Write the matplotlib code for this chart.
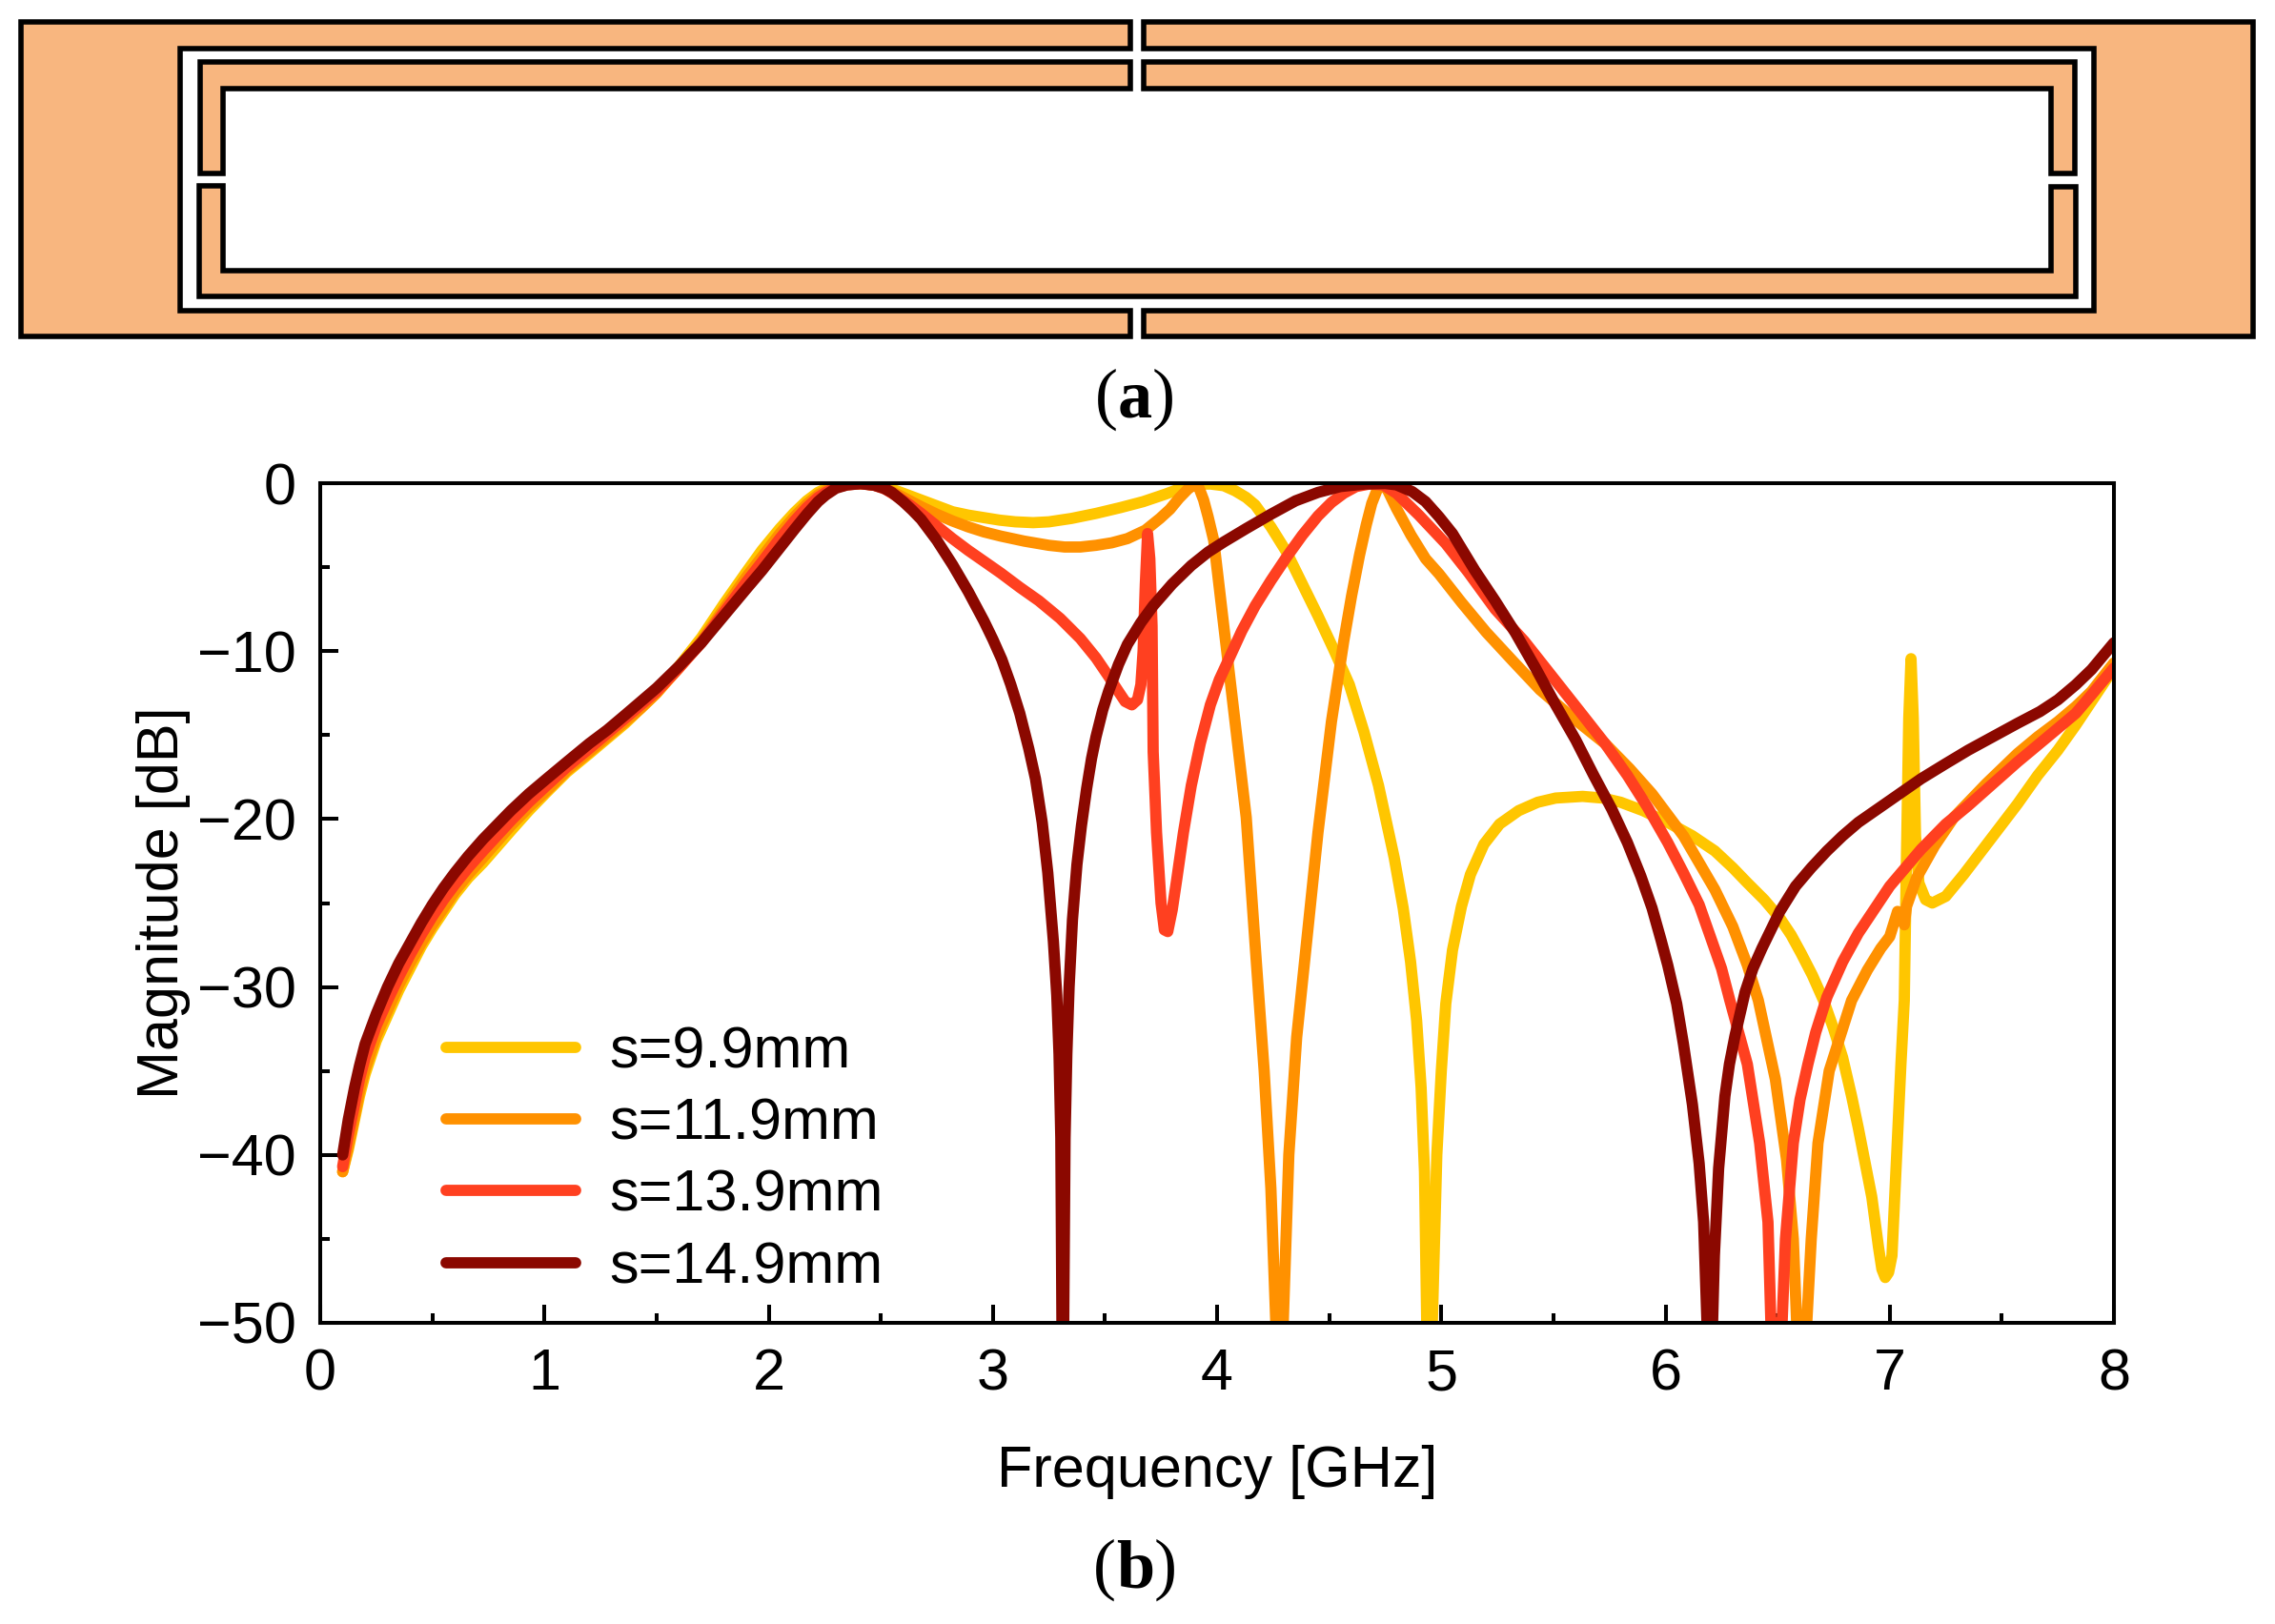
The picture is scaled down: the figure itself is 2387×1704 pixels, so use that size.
import matplotlib
matplotlib.use('Agg')
from matplotlib import pyplot as plt
from matplotlib.patches import Polygon

plt.rcParams['font.family'] = ['Liberation Sans', 'DejaVu Sans']

# s=9.9mm
f_99 = [0.1, 0.125, 0.153, 0.175, 0.2, 0.25, 0.3, 0.35, 0.4, 0.45, 0.5, 0.55, 0.6, 0.66, 0.726, 0.85, 0.93, 1.01, 1.1, 1.2,
        1.28, 1.36, 1.43, 1.5, 1.6, 1.7, 1.8, 1.9, 1.97, 2.05, 2.115, 2.17, 2.22, 2.26, 2.3, 2.35, 2.41, 2.5, 2.58, 2.63,
        2.68, 2.75, 2.82, 2.89, 2.96, 3.03, 3.1, 3.18, 3.25, 3.35, 3.46, 3.57, 3.67, 3.77, 3.87, 3.92, 3.97, 4.03, 4.08,
        4.13, 4.17, 4.24, 4.31, 4.38, 4.45, 4.52, 4.59, 4.655, 4.72, 4.79, 4.83, 4.863, 4.89, 4.91, 4.925, 4.935, 4.96, 4.98,
        5.0, 5.02, 5.05, 5.09, 5.13, 5.19, 5.26, 5.345, 5.43, 5.51, 5.63, 5.72, 5.8, 5.9, 6.01, 6.12, 6.22, 6.3, 6.365, 6.44,
        6.51, 6.56, 6.605, 6.655, 6.705, 6.75, 6.79, 6.83, 6.86, 6.92, 6.95, 6.965, 6.98, 6.995, 7.01, 7.03, 7.05, 7.065,
        7.075, 7.085, 7.095, 7.105, 7.115, 7.13, 7.16, 7.19, 7.25, 7.33, 7.45, 7.57, 7.66, 7.75, 7.83, 7.91, 8.0]
db_99 = [-41, -39.7, -37.9, -36.5, -35.2, -33.2, -31.7, -30.2, -28.9, -27.6, -26.5, -25.5, -24.5, -23.5, -22.6, -20.7, -19.5, -18.4, -17.2, -16.1,
         -15.2, -14.3, -13.4, -12.5, -10.9, -9.2, -7.2, -5.3, -4, -2.7, -1.75, -1.05, -0.55, -0.3, -0.12, -0.05, -0.02, -0.15, -0.5, -0.75,
         -1, -1.35, -1.7, -1.9, -2.05, -2.2, -2.3, -2.35, -2.3, -2.1, -1.8, -1.45, -1.1, -0.65, -0.15, -0.06, -0.05, -0.15, -0.45,
         -0.85, -1.3, -2.6, -4.1, -6, -7.9, -9.9, -12, -14.8, -18, -22.3, -25.3, -28.5, -32, -36, -41, -50, -50, -40,
         -35, -31, -27.8, -25.2, -23.3, -21.5, -20.3, -19.5, -19, -18.75, -18.65, -18.75, -19, -19.5, -20.2, -21, -21.9, -22.9, -23.8, -24.8,
         -25.9, -26.9, -28, -29.3, -30.8, -32.5, -34.2, -36.5, -38.4, -42.5, -45.5, -46.8, -47.3, -47, -46, -40.3, -34.6, -30.8,
         -22, -14, -10.45, -14, -21, -23.8, -24.8, -25, -24.6, -23.3, -21.2, -19.1, -17.4, -15.9, -14.4, -12.8, -11]

# s=11.9mm
f_119 = [0.1, 0.125, 0.153, 0.175, 0.2, 0.25, 0.3, 0.35, 0.4, 0.45, 0.5, 0.55, 0.6, 0.66, 0.726, 0.85, 0.93, 1.01, 1.1, 1.2,
         1.28, 1.36, 1.43, 1.5, 1.6, 1.7, 1.8, 1.9, 1.97, 2.05, 2.115, 2.17, 2.22, 2.26, 2.3, 2.35, 2.41, 2.47, 2.52, 2.58,
         2.63, 2.68, 2.75, 2.82, 2.89, 2.96, 3.035, 3.14, 3.25, 3.32, 3.39, 3.46, 3.53, 3.6, 3.68, 3.745, 3.79, 3.83, 3.87, 3.9,
         3.92, 3.94, 3.96, 3.985, 4.03, 4.08, 4.13, 4.175, 4.21, 4.24, 4.262, 4.295, 4.32, 4.355, 4.39, 4.45, 4.51, 4.565, 4.6, 4.635,
         4.665, 4.69, 4.715, 4.735, 4.76, 4.8, 4.865, 4.93, 4.99, 5.09, 5.2, 5.32, 5.44, 5.58, 5.73, 5.84, 5.94, 6.08, 6.22, 6.3, 6.365,
         6.414, 6.49, 6.54, 6.57, 6.585, 6.63, 6.65, 6.68, 6.73, 6.78, 6.83, 6.9, 6.96, 7.0, 7.035, 7.05, 7.065, 7.075, 7.12, 7.2, 7.286,
         7.43, 7.57, 7.66, 7.75, 7.83, 7.9, 8.0]
db_119 = [-41, -39.5, -37.7, -36.2, -34.9, -32.9, -31.4, -29.9, -28.6, -27.4, -26.3, -25.3, -24.3, -23.3, -22.3, -20.4, -19.3, -18.3, -17.1, -16,
          -15.1, -14.2, -13.4, -12.5, -11, -9.4, -7.5, -5.6, -4.4, -3, -2, -1.25, -0.7, -0.4, -0.2, -0.08, -0.03, -0.1, -0.3, -0.7,
          -1.05, -1.4, -1.85, -2.25, -2.6, -2.9, -3.15, -3.45, -3.7, -3.8, -3.8, -3.7, -3.55, -3.3, -2.8, -2.1, -1.55, -0.9, -0.35, -0.05,
          -0.3, -1, -2, -3.4, -8.5, -14.2, -19.9, -28.5, -35, -42, -50, -50, -40, -33, -28.5, -20.8, -14.2, -9.4, -6.7, -4.3,
          -2.5, -1.2, -0.35, -0.1, -0.4, -1.5, -3.1, -4.5, -5.4, -7.1, -8.87, -10.6, -12.3, -13.9, -15.5, -17, -18.5, -21, -24.2, -26.4, -28.7,
          -30.8, -35.5, -40.3, -45, -50, -50, -45, -39.3, -35, -32.9, -30.8, -29, -27.7, -27, -25.5, -25.6, -26.3, -25.2, -23.5, -21.6, -19.9,
          -17.9, -16.1, -15.1, -14.2, -13.3, -12.4, -10.7]

# s=13.9mm
f_139 = [0.1, 0.125, 0.153, 0.175, 0.2, 0.25, 0.3, 0.35, 0.4, 0.45, 0.5, 0.55, 0.6, 0.66, 0.726, 0.85, 0.93, 1.01, 1.1, 1.2,
         1.28, 1.36, 1.43, 1.5, 1.6, 1.7, 1.8, 1.9, 1.97, 2.05, 2.115, 2.17, 2.22, 2.255, 2.3, 2.35, 2.41, 2.47, 2.52, 2.58,
         2.63, 2.68, 2.75, 2.82, 2.89, 2.96, 3.035, 3.12, 3.205, 3.3, 3.39, 3.46, 3.516, 3.56, 3.59, 3.62, 3.645, 3.66, 3.67, 3.68,
         3.69, 3.7, 3.71, 3.715, 3.73, 3.75, 3.765, 3.78, 3.8, 3.82, 3.85, 3.885, 3.925, 3.97, 4.01, 4.055, 4.11, 4.17, 4.24, 4.31,
         4.38, 4.45, 4.51, 4.565, 4.62, 4.68, 4.74, 4.8, 4.9, 5.02, 5.12, 5.24, 5.37, 5.5, 5.63, 5.73, 5.83, 5.92, 6.01, 6.08, 6.15,
         6.25, 6.287, 6.365, 6.42, 6.457, 6.47, 6.52, 6.535, 6.57, 6.6, 6.635, 6.67, 6.72, 6.79, 6.86, 7.0, 7.14, 7.25, 7.35, 7.46, 7.57,
         7.66, 7.75, 7.83, 7.9, 8.0]
db_139 = [-40.7, -38.8, -37, -35.5, -34.2, -32.3, -30.8, -29.4, -28.1, -26.9, -25.8, -24.8, -23.9, -22.9, -21.9, -20.1, -19, -18, -16.9, -15.8,
          -14.9, -14, -13.2, -12.4, -11, -9.5, -7.7, -5.9, -4.7, -3.3, -2.25, -1.45, -0.85, -0.55, -0.25, -0.1, -0.03, -0.12, -0.35, -0.85,
          -1.3, -1.8, -2.55, -3.3, -4, -4.65, -5.35, -6.2, -7, -8.05, -9.25, -10.4, -11.5, -12.4, -13, -13.2, -12.9, -12, -10, -6,
          -3, -4.5, -8.5, -16, -20.8, -25, -26.6, -26.7, -25.4, -23.6, -20.8, -18, -15.5, -13.2, -11.7, -10.4, -8.8, -7.3, -5.8, -4.4,
          -3.1, -1.95, -1.15, -0.6, -0.2, -0.05, -0.1, -0.6, -1.9, -3.6, -5.3, -7.5, -9.4, -11.6, -13.8, -15.5, -17.4, -19.3, -21.4, -23.2, -25.1,
          -28.9, -30.8, -34.6, -39.3, -44, -50, -50, -45, -39.3, -36.7, -34.6, -32.7, -30.6, -28.5, -26.8, -24, -21.8, -20.3, -19.2, -17.9, -16.6,
          -15.6, -14.6, -13.7, -12.6, -11]

# s=14.9mm
f_149 = [0.1, 0.125, 0.153, 0.175, 0.2, 0.25, 0.3, 0.35, 0.4, 0.45, 0.5, 0.55, 0.6, 0.66, 0.726, 0.85, 0.93, 1.01, 1.1, 1.2,
         1.28, 1.36, 1.43, 1.5, 1.6, 1.7, 1.8, 1.9, 1.97, 2.05, 2.115, 2.17, 2.22, 2.255, 2.3, 2.35, 2.41, 2.47, 2.51, 2.55,
         2.6, 2.64, 2.68, 2.75, 2.82, 2.89, 2.96, 3.0, 3.04, 3.08, 3.12, 3.16, 3.19, 3.22, 3.245, 3.27, 3.285, 3.295, 3.303, 3.308,
         3.316, 3.322, 3.33, 3.34, 3.355, 3.375, 3.395, 3.418, 3.44, 3.46, 3.49, 3.516, 3.56, 3.6, 3.66, 3.715, 3.8, 3.885, 3.96, 4.03,
         4.13, 4.24, 4.35, 4.45, 4.55, 4.66, 4.75, 4.8, 4.87, 4.93, 4.99, 5.05, 5.15, 5.24, 5.33, 5.42, 5.51, 5.6, 5.68, 5.76, 5.83, 5.89, 5.94,
         5.98, 6.01, 6.05, 6.08, 6.12, 6.15, 6.17, 6.185, 6.21, 6.218, 6.237, 6.265, 6.285, 6.31, 6.355, 6.39, 6.43, 6.51, 6.58, 6.65, 6.72, 6.79,
         6.86, 7.0, 7.14, 7.25, 7.35, 7.46, 7.57, 7.67, 7.75, 7.83, 7.9, 8.0]
db_149 = [-40, -37.9, -36, -34.7, -33.4, -31.6, -30, -28.6, -27.4, -26.2, -25.1, -24.1, -23.2, -22.2, -21.2, -19.5, -18.5, -17.6, -16.6, -15.5,
          -14.7, -13.8, -13, -12.2, -10.9, -9.5, -7.9, -6.3, -5.2, -3.85, -2.75, -1.85, -1.1, -0.7, -0.3, -0.1, -0.03, -0.12, -0.28, -0.55,
          -1.1, -1.6, -2.15, -3.4, -4.85, -6.45, -8.2, -9.3, -10.5, -12, -13.7, -15.8, -17.6, -20.2, -23.2, -27.3, -30.5, -34, -39, -50,
          -50, -39, -34, -30, -26, -22.7, -20.4, -18.2, -16.4, -15.1, -13.5, -12.4, -10.8, -9.6, -8.3, -7.3, -6, -4.9, -4.1, -3.5,
          -2.7, -1.85, -1.05, -0.55, -0.2, -0.05, -0.02, -0.1, -0.5, -1.1, -2, -3, -5.2, -7, -8.9, -11, -13.2, -15.3, -17.4, -19.4, -21.4, -23.4, -25.3,
          -27.2, -28.7, -31, -33.4, -37, -40.5, -44, -50, -50, -46, -40.8, -36.5, -34.6, -32.9, -30.3, -28.9, -27.7, -25.5, -24, -22.9, -21.9, -21,
          -20.2, -18.9, -17.6, -16.7, -15.9, -15.1, -14.3, -13.6, -12.9, -12, -11.1, -9.5]

labels = ['s=9.9mm', 's=11.9mm', 's=13.9mm', 's=14.9mm']
colors = ['#FFC600', '#FF9100', '#FF4020', '#8B0800']

x_ticks = [0, 1, 2, 3, 4, 5, 6, 7, 8]
x_minor = [0.5, 1.5, 2.5, 3.5, 4.5, 5.5, 6.5, 7.5]
y_ticks = [0, -10, -20, -30, -40, -50]
y_tick_labels = ['0', '\u221210', '\u221220', '\u221230', '\u221240', '\u221250']
y_minor = [-5, -15, -25, -35, -45]

# Panel (a) outlines, in picture pixels
copper_left = [(1186, 22.7), (22, 22.7), (22, 353), (1186, 353), (1186, 325.5), (189, 325.5), (189, 51), (1186, 51)]
copper_right = [(1199.5, 22.7), (2364, 22.7), (2364, 353), (1199.5, 353), (1199.5, 325.5), (2197, 325.5), (2197, 51), (1199.5, 51)]
ring_top_left = [(1186, 65), (209.5, 65), (209.5, 181.7), (234, 181.7), (234, 93), (1186, 93)]
ring_top_right = [(1199.5, 65), (2177.3, 65), (2177.3, 181.7), (2152.3, 181.7), (2152.3, 93), (1199.5, 93)]
ring_bottom = [(234, 195), (208.5, 195), (208.5, 311), (2178, 311), (2178, 196), (2152.3, 196), (2152.3, 284), (234, 284)]
copper_parts = [copper_left, copper_right, ring_top_left, ring_top_right, ring_bottom]

W, H = 2387, 1704
fig = plt.figure(figsize=(W / 100, H / 100), dpi=100, facecolor='white')

# Schematic and panel letters
over = fig.add_axes([0, 0, 1, 1])
over.set_xlim(0, W)
over.set_ylim(H, 0)
over.axis('off')
for part in copper_parts:
    over.add_patch(Polygon(part, closed=True, facecolor='#F8B67F', edgecolor='black', linewidth=4.0, joinstyle='miter'))


def panel_letter(center, baseline, letter, advance):
    # 52 pt is about 72 px, the parentheses advance 24 px
    x = center - (48 + advance) / 2
    over.text(x, baseline, '(', family='Liberation Serif', fontsize=52, ha='left', va='baseline')
    over.text(x + 24, baseline, letter, family='Liberation Serif', fontweight='bold', fontsize=52, ha='left', va='baseline')
    over.text(x + 24 + advance, baseline, ')', family='Liberation Serif', fontsize=52, ha='left', va='baseline')


panel_letter(1191, 437, 'a', 36)
panel_letter(1191, 1665, 'b', 40)

# Panel (b)
ax = fig.add_axes([336 / W, 1 - 1388 / H, 1882 / W, 881 / H])
series_f = [f_99, f_119, f_139, f_149]
series_db = [db_99, db_119, db_139, db_149]
for f, db, lab, col in zip(series_f, series_db, labels, colors):
    ax.plot(f, db, color=col, linewidth=8.5, label=lab, solid_capstyle='round', solid_joinstyle='round')

ax.set_xlim(0, 8)
ax.set_ylim(-50, 0)
ax.set_xticks(x_ticks)
ax.set_xticks(x_minor, minor=True)
ax.set_yticks(y_ticks)
ax.set_yticklabels(y_tick_labels)
ax.set_yticks(y_minor, minor=True)
ax.tick_params(which='major', direction='in', length=14, width=2.9, labelsize=44, pad=19)
ax.tick_params(which='minor', direction='in', length=7, width=2.9)
ax.tick_params(axis='y', which='major', pad=18)
for spine in ax.spines.values():
    spine.set_linewidth(2.9)
    spine.set_zorder(5)
ax.set_xlabel('Frequency [GHz]', fontsize=44, labelpad=32)
ax.set_ylabel('Magnitude [dB]', fontsize=44, labelpad=5)

ax.legend(loc='lower left', bbox_to_anchor=(0.0604, 0.012), frameon=False, fontsize=44, handlelength=2.23,
          handletextpad=0.58, labelspacing=0.30, borderpad=0.3, borderaxespad=0)

plt.savefig('out.png', dpi=100)
